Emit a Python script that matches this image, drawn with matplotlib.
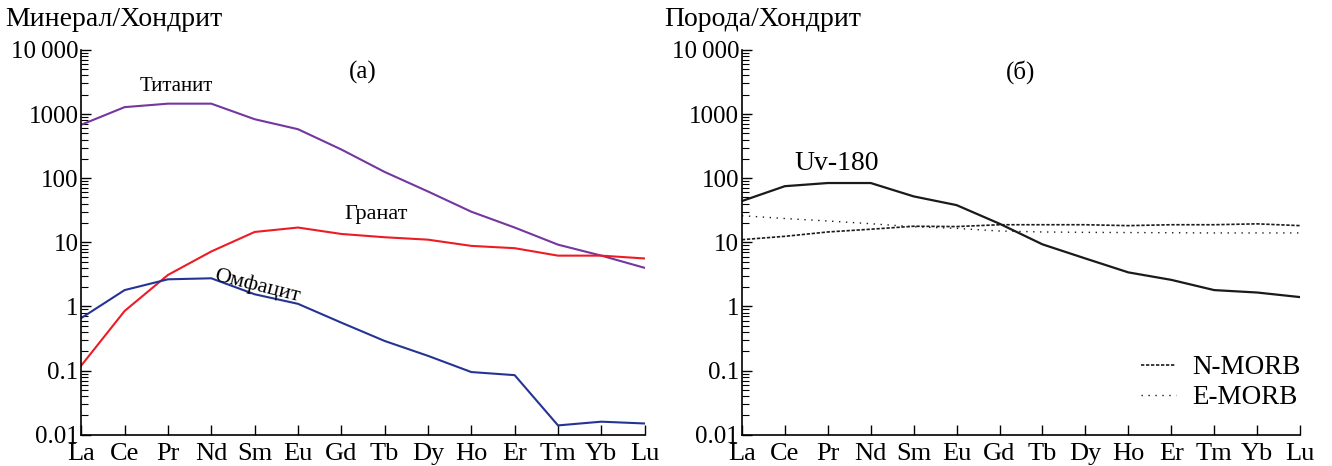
import matplotlib

matplotlib.use("Agg")
import matplotlib.pyplot as plt
from matplotlib.ticker import FixedLocator, FixedFormatter, LogLocator, NullFormatter
import numpy as np

plt.rcParams["font.family"] = ["Liberation Serif", "DejaVu Serif"]

ree = ["La", "Ce", "Pr", "Nd", "Sm", "Eu", "Gd", "Tb", "Dy", "Ho", "Er", "Tm", "Yb", "Lu"]

# (a) mineral / chondrite
titanite = [680, 1280, 1450, 1450, 830, 580, 280, 125, 62, 30, 17, 9.2, 6.2, 4.0]
garnet = [0.12, 0.85, 3.1, 7.2, 14.5, 17, 13.5, 12, 11, 8.8, 8.1, 6.2, 6.2, 5.6]
omphacite = [0.66, 1.8, 2.65, 2.75, 1.55, 1.1, 0.56, 0.29, 0.17, 0.095, 0.085, 0.014, 0.016, 0.015]

# (б) rock / chondrite
uv180 = [44, 75, 84, 84, 52, 38, 19.5, 9.3, 5.6, 3.4, 2.6, 1.8, 1.65, 1.4]
n_morb = [11, 12.4, 14.5, 16, 17.8, 17.6, 18.8, 18.8, 18.8, 18.2, 18.8, 18.8, 19.4, 18.2]
e_morb = [26, 23.5, 21.5, 19.5, 17.5, 16.5, 15, 14.5, 14.3, 14.2, 14.1, 14, 14, 14]

ytick_vals = [0.01, 0.1, 1, 10, 100, 1000, 10000]
ytick_labels = ["0.01", "0.1", "1", "10", "100", "1000", "10\u2009000"]

fig = plt.figure(figsize=(13.32, 4.66), dpi=100)
ax1 = fig.add_axes([0.061, 0.067, 0.423, 0.826])
ax2 = fig.add_axes([0.557, 0.067, 0.419, 0.826])

x = np.arange(len(ree))
for ax in (ax1, ax2):
    ax.set_yscale("log")
    ax.set_ylim(0.01, 10000)
    ax.set_xlim(0, len(ree) - 1)
    ax.spines["top"].set_visible(False)
    ax.spines["right"].set_visible(False)
    ax.yaxis.set_major_locator(FixedLocator(ytick_vals))
    ax.yaxis.set_major_formatter(FixedFormatter(ytick_labels))
    ax.yaxis.set_minor_locator(LogLocator(base=10, subs=np.arange(2, 10)))
    ax.yaxis.set_minor_formatter(NullFormatter())
    ax.set_xticks(x)
    ax.set_xticklabels(ree)
    ax.tick_params(axis="y", which="major", direction="in", length=7, width=1, labelsize=18, pad=2)
    ax.tick_params(axis="y", which="minor", direction="in", length=5, width=0.8)
    ax.tick_params(axis="x", direction="in", length=7, width=1, labelsize=19, pad=6)
    for s in ("left", "bottom"):
        ax.spines[s].set_linewidth(1.2)

ax1.plot(x, titanite, color="#7436A0", lw=1.5)
ax1.plot(x, garnet, color="#ED1C24", lw=1.5)
ax1.plot(x, omphacite, color="#253494", lw=1.5)
ax1.text(2.2, 1900, "Титанит", fontsize=15, ha="center", va="bottom")
ax1.text(6.8, 19, "Гранат", fontsize=16, ha="center", va="bottom")
ax1.text(4.05, 2.1, "Омфацит", fontsize=16, ha="center", va="center", rotation=-14)
ax1.text(6.5, 4500, "(а)", fontsize=18, ha="center", va="center")
fig.text(0.004, 0.958, "Минерал/Хондрит", fontsize=20, ha="left", va="center")

ax2.plot(x, uv180, color="#1a1a1a", lw=1.6)
ax2.plot(x, n_morb, color="#1a1a1a", lw=1.2, ls=(0, (2, 1)), label="N-MORB")
ax2.plot(x, e_morb, color="#1a1a1a", lw=1.0, ls=(0, (1, 4)), label="E-MORB")
ax2.text(2.2, 110, "Uv-180", fontsize=20, ha="center", va="bottom")
ax2.text(6.5, 4500, "(б)", fontsize=18, ha="center", va="center")
fig.text(0.499, 0.958, "Порода/Хондрит", fontsize=20, ha="left", va="center")
ax2.legend(loc="lower right", bbox_to_anchor=(1.045, 0.0), frameon=False, fontsize=19.5,
           handlelength=1.3, handletextpad=0.6, labelspacing=0.2)

fig.savefig("out.png", dpi=100)
